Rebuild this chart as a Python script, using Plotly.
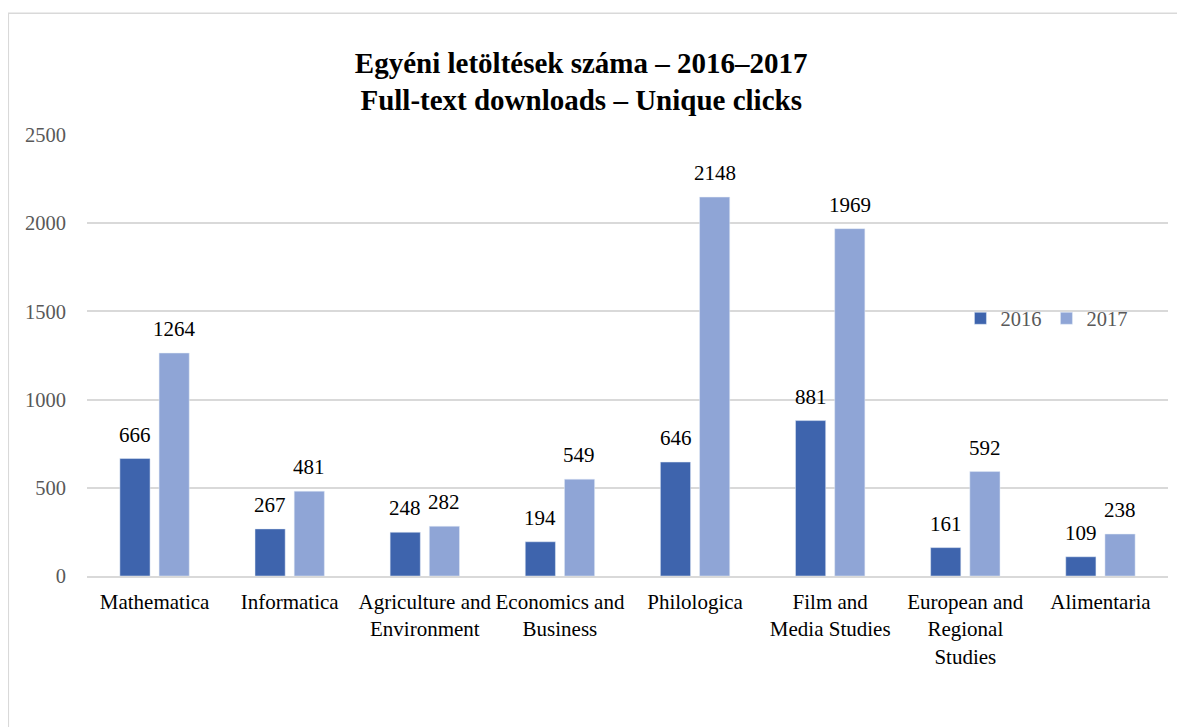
import plotly.graph_objects as go

categories = ["Mathematica", "Informatica", "Agriculture and<br>Environment", "Economics and<br>Business",
              "Philologica", "Film and<br>Media Studies", "European and<br>Regional<br>Studies", "Alimentaria"]
values_2016 = [666, 267, 248, 194, 646, 881, 161, 109]
values_2017 = [1264, 481, 282, 549, 2148, 1969, 592, 238]
tick_vals = [0, 500, 1000, 1500, 2000, 2500]

font = "Liberation Serif, Times New Roman, serif"
fig = go.Figure()
fig.add_trace(go.Bar(name="2016", x=categories, y=values_2016, marker_color="#3e64ad"))
fig.add_trace(go.Bar(name="2017", x=categories, y=values_2017, marker_color="#8fa5d6"))

annotations = []
for vals, shift in ((values_2016, -19.5), (values_2017, 19.5)):
    for c, v in zip(categories, vals):
        annotations.append(dict(x=c, y=v, xref="x", yref="y", text=str(v), showarrow=False,
                                xanchor="center", yanchor="bottom", xshift=shift, yshift=10,
                                font=dict(family=font, size=21, color="#000000")))

fig.update_layout(
    width=1177, height=719,
    margin=dict(l=79, r=17, t=127, b=151),
    paper_bgcolor="white", plot_bgcolor="white",
    barmode="group", bargap=0.42, bargroupgap=0.23,
    font=dict(family=font, size=21, color="#000000"),
    title=dict(text="<b>Egyéni letöltések száma – 2016–2017<br>Full-text downloads – Unique clicks</b>",
               x=0.487, xanchor="center", y=0.91, yanchor="middle",
               font=dict(family=font, size=29, color="#000000")),
    legend=dict(orientation="h", x=0.808, y=0.584, xanchor="left", yanchor="middle",
                font=dict(family=font, size=20.5, color="#595959"), bgcolor="rgba(0,0,0,0)",
                itemwidth=30, traceorder="normal"),
    xaxis=dict(showgrid=False, showline=True, linecolor="#d9d9d9", linewidth=1.5, ticks="",
               tickfont=dict(family=font, size=21, color="#000000"), ticklabelstandoff=6),
    yaxis=dict(range=[0, 2500], tickvals=tick_vals, showgrid=True, gridcolor="#d9d9d9", gridwidth=1.5,
               zeroline=False, ticks="", tickfont=dict(family=font, size=20.5, color="#595959"),
               ticklabelstandoff=20),
    annotations=annotations,
    shapes=[dict(type="rect", xref="paper", yref="paper", x0=-0.0728, x1=1.2, y0=-0.5, y1=1.276,
                 line=dict(color="#d9d9d9", width=1.5), fillcolor="rgba(0,0,0,0)", layer="below")],
)
fig.write_html("out.html")
